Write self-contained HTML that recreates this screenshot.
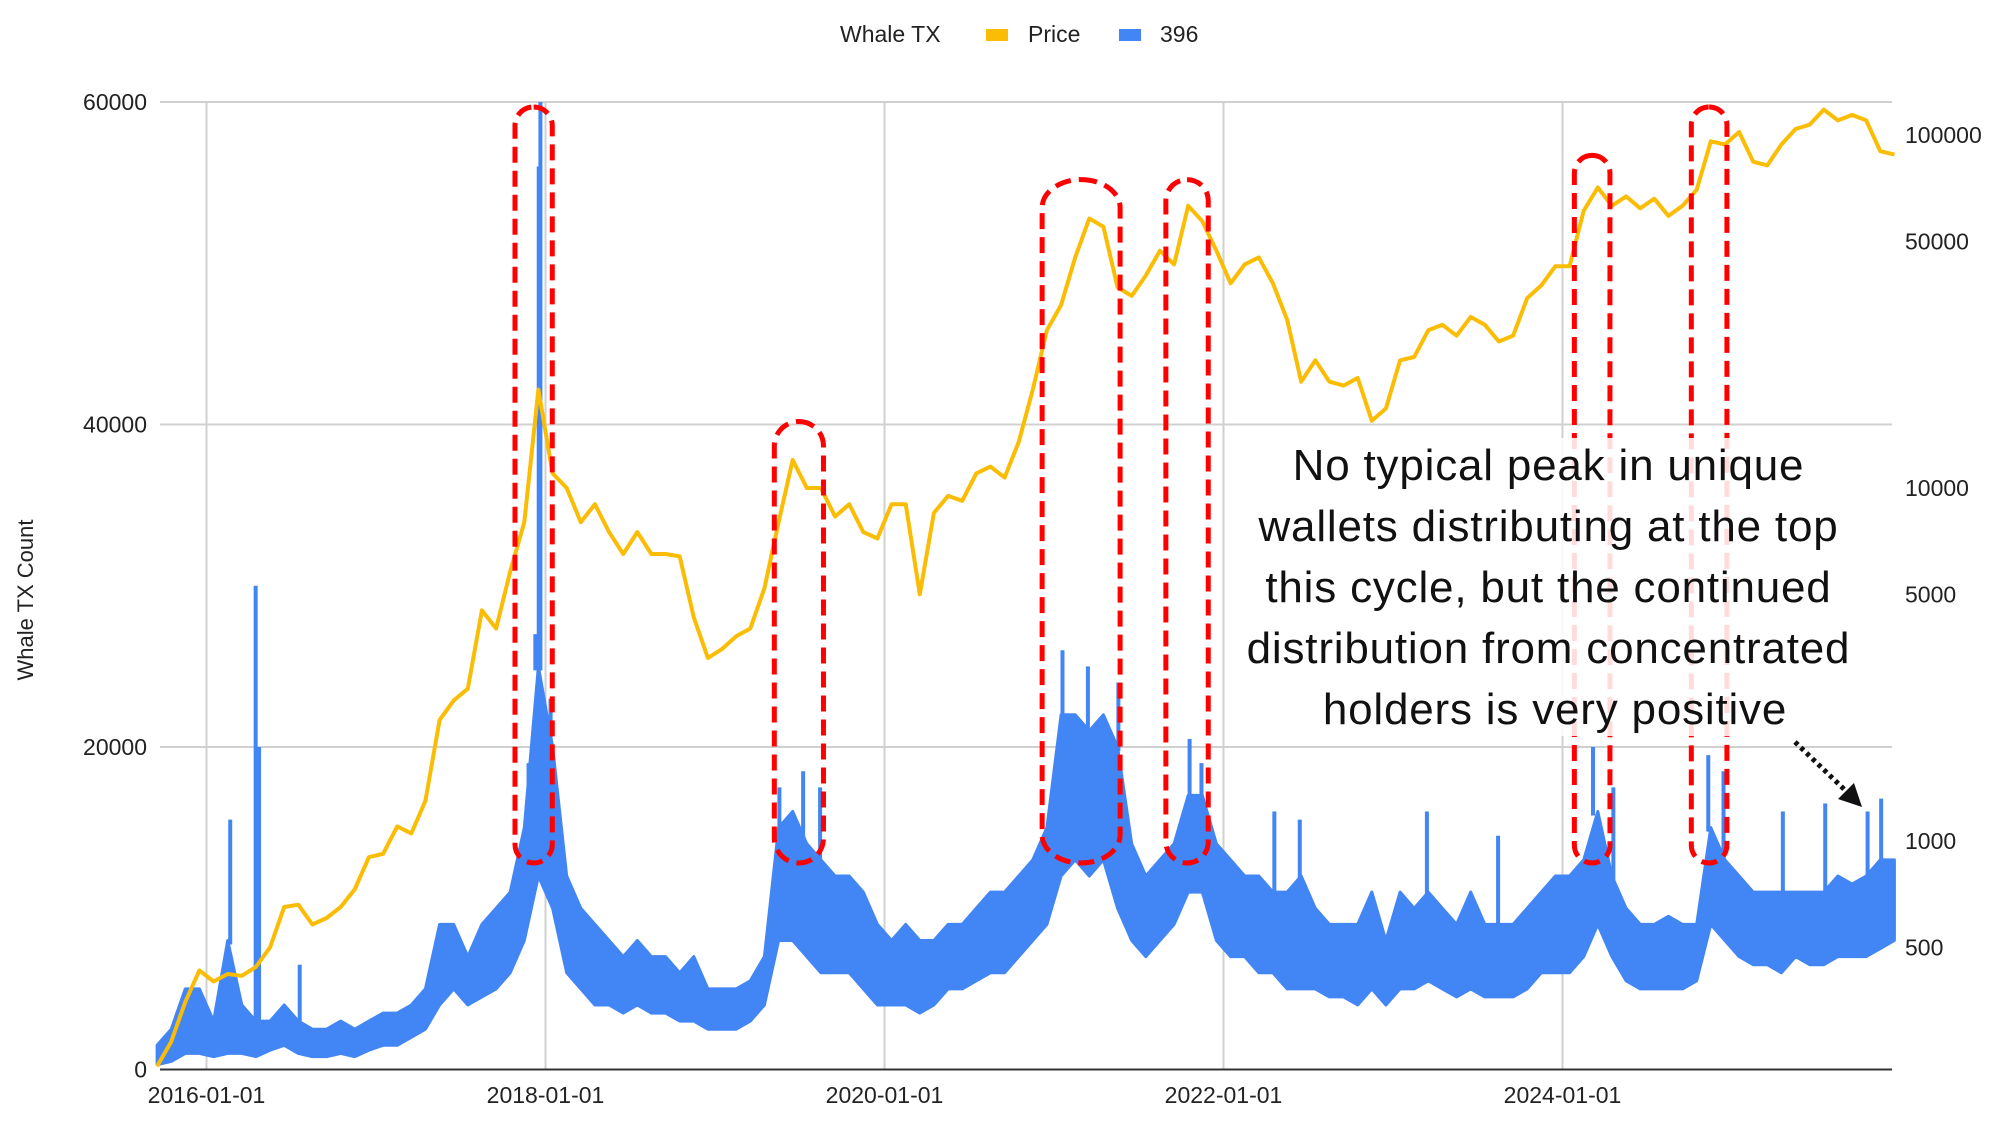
<!DOCTYPE html>
<html><head><meta charset="utf-8"><style>
html,body{margin:0;padding:0;background:#fff;}
svg{display:block;font-family:"Liberation Sans",Arial,sans-serif;}
</style></head><body>
<svg id="chart" width="1999" height="1124" viewBox="0 0 1999 1124">
<g id="grid"></g>
<g id="series"></g>
<g id="axes"></g>
<g id="legend">
  <text x="840" y="42" font-size="23" fill="#222">Whale TX</text>
  <rect x="986" y="29" width="22" height="12" fill="#FBBC04"/>
  <text x="1028" y="42" font-size="23" fill="#222">Price</text>
  <rect x="1119" y="29" width="22" height="12" fill="#4285F4"/>
  <text x="1160" y="42" font-size="23" fill="#222">396</text>
</g>
<text transform="translate(33,600) rotate(-90)" text-anchor="middle" font-size="22" fill="#222">Whale TX Count</text>
<g id="rings"></g>
<g>
  <rect x="1236" y="438" width="636" height="298" fill="rgba(255,255,255,0.86)"/>
  <text x="1555" y="480" text-anchor="middle" font-size="44" letter-spacing="0.8" fill="#111">
    <tspan x="1555" y="480">No typical peak in unique</tspan>
    <tspan x="1555" y="541">wallets distributing at the top</tspan>
    <tspan x="1555" y="602">this cycle, but the continued</tspan>
    <tspan x="1555" y="663">distribution from concentrated</tspan>
    <tspan x="1555" y="724">holders is very positive</tspan>
  </text>
  <line x1="1795" y1="742" x2="1847" y2="792" stroke="#111" stroke-width="5" stroke-dasharray="4 4"/>
  <polygon points="1862,807 1838,799 1854,783" fill="#111"/>
</g>
</svg>
<script>
const startYear = 2015, startMonth = 8; // Sep 2015 (0-based month)
const priceUSD = [230,270,350,430,
 400,420,415,440,500,650,660,580,605,650,730,900,
 920,1100,1050,1300,2200,2500,2700,4500,4000,5800,8000,19000,
 11000,10000,8000,9000,7500,6500,7500,6500,6500,6400,4300,3300,
 3500,3800,4000,5200,8000,12000,10000,10000,8300,9000,7500,7200,
 9000,9000,5000,8500,9500,9200,11000,11500,10700,13500,19000,28000,
 33000,45000,58000,55000,37000,35000,40000,47000,43000,63000,57000,47000,
 38000,43000,45000,38000,30000,20000,23000,20000,19500,20500,15500,16800,
 23000,23500,28000,29000,27000,30500,29000,26000,27000,34500,37500,42500,
 42500,61000,71000,63000,67000,62000,66000,59000,63000,70000,96000,94000,
 102000,84000,82000,94000,104000,107000,118000,110000,114000,110000,90000,88000];
const whaleLow = [300,500,1000,1000,
 800,1000,1000,800,1200,1500,1000,800,800,1000,800,1200,
 1500,1500,2000,2500,4000,5000,4000,4500,5000,6000,8000,12000,
 10000,6000,5000,4000,4000,3500,4000,3500,3500,3000,3000,2500,
 2500,2500,3000,4000,8000,8000,7000,6000,6000,6000,5000,4000,
 4000,4000,3500,4000,5000,5000,5500,6000,6000,7000,8000,9000,
 12000,13000,12000,13000,10000,8000,7000,8000,9000,11000,11000,8000,
 7000,7000,6000,6000,5000,5000,5000,4500,4500,4000,5000,4000,
 5000,5000,5500,5000,4500,5000,4500,4500,4500,5000,6000,6000,
 6000,7000,9000,7000,5500,5000,5000,5000,5000,5500,9000,8000,
 7000,6500,6500,6000,7000,6500,6500,7000,7000,7000,7500,8000];
const whaleHigh = [1500,2500,5000,5000,
 3000,8000,4000,3000,3000,4000,3000,2500,2500,3000,2500,3000,
 3500,3500,4000,5000,9000,9000,7000,9000,10000,11000,15000,25000,
 20000,12000,10000,9000,8000,7000,8000,7000,7000,6000,7000,5000,
 5000,5000,5500,7000,15000,16000,14000,13000,12000,12000,11000,9000,
 8000,9000,8000,8000,9000,9000,10000,11000,11000,12000,13000,15000,
 22000,22000,21000,22000,20000,14000,12000,13000,14000,17000,17000,14000,
 13000,12000,12000,11000,11000,12000,10000,9000,9000,9000,11000,8000,
 11000,10000,11000,10000,9000,11000,9000,9000,9000,10000,11000,12000,
 12000,13000,16000,12000,10000,9000,9000,9500,9000,9000,15000,13000,
 12000,11000,11000,11000,11000,11000,11000,12000,11500,12000,13000,13000];
const spikeDates = [2016.14,2016.29,2016.31,2016.55,2017.9,2017.94,2017.96,2017.97,2018.03,2019.38,2019.52,2019.62,2021.05,2021.2,2021.38,2021.8,2021.87,2022.3,2022.45,2023.2,2023.62,2024.18,2024.3,2024.86,2024.95,2025.3,2025.55,2025.8,2025.88];
const spikeValues = [15500,30000,20000,6500,19000,27000,56000,60000,23000,17500,18500,17500,26000,25000,24000,20500,19000,16000,15500,16000,14500,20000,17500,19500,18500,16000,16500,16000,16800];
const leftTicks = [0,20000,40000,60000];
const rightTicks = [500,1000,5000,10000,50000,100000];
const xTickYears = [2016,2018,2020,2022,2024];
const xTickLabels = ["2016-01-01","2018-01-01","2020-01-01","2022-01-01","2024-01-01"];
const ringStarts = [2017.82,2019.35,2020.93,2021.66,2024.07,2024.76];
const ringEnds = [2018.04,2019.64,2021.39,2021.91,2024.28,2024.97];
const ringTops = [60000,40500,55500,55500,57000,60000];

const NS="http://www.w3.org/2000/svg";
const X0=206.5, PX_YR=169.5, PL=160, PR=1892;
const yL = v => 1069.5 - v*(967.5/60000);
const yR = v => 488 - (Math.log10(v)-4)*353;
const xY = yr => X0 + (yr-2016)*PX_YR;
const xM = i => xY(startYear + (startMonth+i+0.5)/12);
const monthIdx = yr => Math.max(0,Math.min(whaleHigh.length-1,Math.floor((yr-startYear)*12-startMonth)));
function el(tag, attrs, parent){const e=document.createElementNS(NS,tag);for(const k in attrs)e.setAttribute(k,attrs[k]);parent.appendChild(e);return e;}
const grid=document.getElementById('grid'), series=document.getElementById('series'), axes=document.getElementById('axes'), rings=document.getElementById('rings');

leftTicks.forEach(v=>{
  const g=el('line',{x1:PL,x2:PR,y1:yL(v),y2:yL(v),stroke:v===0?'#333':'#d0d0d0','stroke-width':2},v===0?axes:grid);
  
  
  const t=el('text',{x:147,y:yL(v)+8,'text-anchor':'end','font-size':23,fill:'#222'},axes);
  t.textContent=v;
  
  
});
rightTicks.forEach(v=>{
  const t=el('text',{x:1905,y:yR(v)+8,'font-size':23,fill:'#222'},axes);
  t.textContent=v;
  
  
});
xTickYears.forEach((yr,i)=>{
  const g=el('line',{x1:xY(yr),x2:xY(yr),y1:102,y2:1069.5,stroke:'#d0d0d0','stroke-width':2},grid);
  
  
  const t=el('text',{x:xY(yr),y:1103,'text-anchor':'middle','font-size':23,fill:'#222'},axes);
  t.textContent=xTickLabels[i];
  
  
});

let up=[],dn=[];
whaleHigh.forEach((v,i)=>up.push(xM(i).toFixed(1)+','+yL(v).toFixed(1)));
whaleLow.forEach((v,i)=>dn.push(xM(i).toFixed(1)+','+yL(v).toFixed(1)));
const band=el('polygon',{points:up.concat(dn.reverse()).join(' '),fill:'#4285F4',stroke:'#4285F4','stroke-width':3,'stroke-linejoin':'round'},series);


spikeDates.forEach((d,i)=>{
  const base=whaleHigh[monthIdx(d)];
  const s=el('line',{x1:xY(d),x2:xY(d),y1:yL(spikeValues[i]),y2:yL(base)+4,stroke:'#4285F4','stroke-width':4},series);
  
  
});
const pp=priceUSD.map((v,i)=>xM(i).toFixed(1)+','+yR(v).toFixed(1)).join(' ');
const pl=el('polyline',{points:pp,fill:'none',stroke:'#FBBC04','stroke-width':4,'stroke-linejoin':'round'},series);


ringStarts.forEach((s,i)=>{
  const x1=xY(s),x2=xY(ringEnds[i]),w=x2-x1,top=yL(ringTops[i])+5;
  const r=el('rect',{x:x1,y:top,width:w,height:863-top,rx:w/2,ry:Math.min(w/2,28),fill:'none',stroke:'#ff0000','stroke-width':5,'stroke-dasharray':'16 8'},rings);
  
  
});
</script>
</body></html>
